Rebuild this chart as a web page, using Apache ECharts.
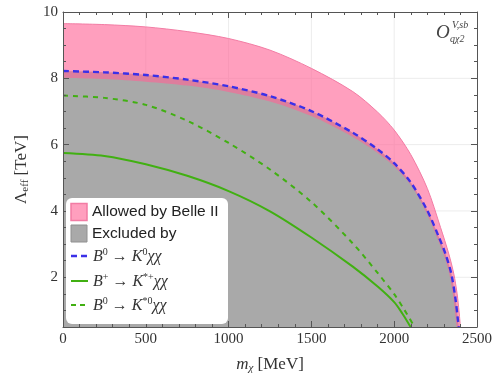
<!DOCTYPE html>
<html><head><meta charset="utf-8">
<script src="https://cdn.jsdelivr.net/npm/echarts@6/dist/echarts.min.js"></script>
<style>html,body{margin:0;padding:0;background:#fff}#c{width:495px;height:379px}</style>
</head><body><div id="c"></div>
<script>
// ---- data ----
const xTicks = [0, 500, 1000, 1500, 2000, 2500];
const yMajorTicks = [2, 4, 6, 8, 10];
const gridX = [500, 1000, 1500, 2000];
const gridY = [2, 4, 6, 8];

// Allowed by Belle II band: upper edge
const massAllowedUpper = [0, 250, 500, 750, 1000, 1250, 1500, 1750, 1900, 2000, 2100, 2200, 2280, 2330, 2360, 2380, 2392, 2400];
const allowedUpper     = [9.65, 9.62, 9.55, 9.41, 9.20, 8.85, 8.30, 7.60, 6.98, 6.44, 5.70, 4.68, 3.50, 2.70, 2.10, 1.50, 0.95, 0.50];
// Allowed by Belle II band: lower edge
const massAllowedLower = [0, 250, 500, 750, 1000, 1250, 1500, 1750, 1900, 2000, 2100, 2190, 2258, 2298, 2333, 2358, 2372, 2378];
const allowedLower     = [8.02, 7.98, 7.90, 7.78, 7.59, 7.30, 6.86, 6.23, 5.75, 5.34, 4.78, 4.00, 3.21, 2.70, 2.10, 1.35, 0.70, 0.50];

// B0 -> K0 chi chi (blue dashed, boundary of the excluded region)
const massB0K0 = [0, 250, 500, 750, 1000, 1250, 1500, 1750, 1900, 2000, 2100, 2200, 2270, 2310, 2345, 2370, 2385, 2390];
const b0K0     = [8.22, 8.18, 8.10, 7.96, 7.76, 7.46, 7.01, 6.36, 5.86, 5.44, 4.86, 4.01, 3.21, 2.70, 2.10, 1.35, 0.70, 0.50];

// B+ -> K*+ chi chi (green solid)
const massBpKsp = [0, 250, 500, 750, 1000, 1250, 1500, 1750, 1900, 2000, 2050, 2099];
const bpKsp     = [5.75, 5.66, 5.41, 5.06, 4.60, 3.99, 3.20, 2.32, 1.72, 1.25, 0.90, 0.50];

// B0 -> K*0 chi chi (green dashed)
const massB0Ks0 = [0, 250, 500, 750, 1000, 1250, 1500, 1750, 1900, 2000, 2060, 2123];
const b0Ks0     = [7.48, 7.41, 7.20, 6.72, 6.05, 5.25, 4.27, 3.02, 2.13, 1.49, 1.03, 0.50];

// ---- chart ----
const pairs = (xs, ys) => xs.map((x, i) => [x, ys[i]]);
const PINK = 'rgba(255,100,150,0.62)';
const PINK_EDGE = '#f27ca4';
const GRAY = '#a9a9a9';
const BLUE = '#3b30e8';
const GREEN = '#41b012';
const AX = '#555';
const SM = 0.3;
const serif = '"Liberation Serif", "DejaVu Serif", serif';
const sans = '"Liberation Sans", Arial, sans-serif';

const chart = echarts.init(document.getElementById('c'), null, {renderer: 'canvas'});

const gridSeries = [];
gridX.forEach(v => gridSeries.push({type: 'line', z: 1, silent: true, symbol: 'none', data: [[v, 0.5], [v, 10]], lineStyle: {color: '#ececec', width: 1}}));
gridY.forEach(v => gridSeries.push({type: 'line', z: 1, silent: true, symbol: 'none', data: [[0, v], [2500, v]], lineStyle: {color: '#ececec', width: 1}}));

const areaSeries = (data, z, fill, edge) => ({type: 'line', z: z, silent: true, symbol: 'none', smooth: SM,
  data: data, lineStyle: edge ? {color: edge, width: 1} : {width: 0},
  areaStyle: {color: fill, opacity: 1, origin: 'start'}});

const yBase = {type: 'value', min: 0.5, max: 10, interval: 0.5, gridIndex: 0, z: 10, splitLine: {show: false}};
const xBase = {type: 'value', min: 0, max: 2500, interval: 500, gridIndex: 0, z: 10, splitLine: {show: false},
  axisLine: {show: true, lineStyle: {color: AX, width: 1}},
  axisTick: {show: true, inside: true, length: 6, lineStyle: {color: AX}},
  minorTick: {show: true, splitNumber: 5, length: 3, lineStyle: {color: AX}}};

const option = {
  animation: false,
  backgroundColor: '#fff',
  grid: {left: 63, right: 12, top: 12, bottom: 52, containLabel: false},
  xAxis: [
    Object.assign({}, xBase, {position: 'bottom',
      axisLabel: {show: true, fontFamily: serif, fontSize: 15, color: '#333', margin: 5,
        formatter: v => String(v)},
      name: '{i|m}{s|χ} [MeV]', nameLocation: 'middle', nameGap: 28,
      nameTextStyle: {fontFamily: serif, fontSize: 17, color: '#333',
        rich: {i: {fontFamily: serif, fontStyle: 'italic', fontSize: 17, color: '#333'},
               s: {fontFamily: serif, fontStyle: 'italic', fontSize: 11, color: '#333', verticalAlign: 'bottom', padding: [8, 0, 0, 0]}}}}),
    Object.assign({}, xBase, {position: 'top', axisLabel: {show: false}})
  ],
  yAxis: [
    Object.assign({}, yBase, {position: 'left',
      axisLine: {show: true, lineStyle: {color: AX}},
      axisTick: {show: true, inside: true, length: 3, lineStyle: {color: AX}},
      axisLabel: {show: true, fontFamily: serif, fontSize: 15, color: '#333', margin: 5,
        formatter: v => (yMajorTicks.indexOf(v) >= 0 ? String(v) : '')},
      name: '{n|Λ}{s|eff} [TeV]', nameLocation: 'middle', nameGap: 32,
      nameTextStyle: {fontFamily: serif, fontSize: 17, color: '#333',
        rich: {n: {fontFamily: serif, fontSize: 17, color: '#333'},
               s: {fontFamily: serif, fontSize: 11, color: '#333', verticalAlign: 'bottom', padding: [8, 0, 0, 0]}}}}),
    Object.assign({}, yBase, {position: 'left', axisLine: {show: false},
      axisTick: {show: true, inside: true, length: 6, lineStyle: {color: AX}, customValues: yMajorTicks},
      axisLabel: {show: false}}),
    Object.assign({}, yBase, {position: 'right',
      axisLine: {show: true, lineStyle: {color: AX}},
      axisTick: {show: true, inside: true, length: 3, lineStyle: {color: AX}},
      axisLabel: {show: false}}),
    Object.assign({}, yBase, {position: 'right', axisLine: {show: false},
      axisTick: {show: true, inside: true, length: 6, lineStyle: {color: AX}, customValues: yMajorTicks},
      axisLabel: {show: false}})
  ],
  series: gridSeries.concat([
    // Allowed band: pink under the upper edge ...
    Object.assign(areaSeries(pairs(massAllowedUpper, allowedUpper), 2, PINK, PINK_EDGE), {name: 'Allowed by Belle II'}),
    // ... excluded (grey) region under the B0 -> K0 bound ...
    Object.assign(areaSeries(pairs(massB0K0, b0K0), 3, GRAY, null), {name: 'Excluded by'}),
    // ... the allowed band continues (translucent) over the grey ...
    areaSeries(pairs(massB0K0, b0K0), 4, PINK, null),
    // ... down to its lower edge
    areaSeries(pairs(massAllowedLower, allowedLower), 5, GRAY, null),
    {name: 'B0K0', type: 'line', z: 6, symbol: 'none', smooth: SM,
      data: pairs(massB0K0, b0K0), lineStyle: {color: BLUE, width: 2.4, type: [6, 4]}},
    {name: 'BpKsp', type: 'line', z: 6, symbol: 'none', smooth: SM,
      data: pairs(massBpKsp, bpKsp), lineStyle: {color: GREEN, width: 2}},
    {name: 'B0Ks0', type: 'line', z: 6, symbol: 'none', smooth: SM,
      data: pairs(massB0Ks0, b0Ks0), lineStyle: {color: GREEN, width: 2, type: [5, 5]}}
  ]),
  graphic: [
    // operator label
    {type: 'text', z: 60, x: 436, y: 23, style: {text: 'O', font: 'italic 19px ' + serif, fill: '#444'}},
    {type: 'text', z: 60, x: 452, y: 20, style: {text: 'V,sb', font: 'italic 10px ' + serif, fill: '#444'}},
    {type: 'text', z: 60, x: 450, y: 34, style: {text: 'qχ2', font: 'italic 10px ' + serif, fill: '#444'}},
    // legend box
    {type: 'rect', z: 50, shape: {x: 66, y: 198, width: 162, height: 126, r: 6}, style: {fill: '#fff'}},
    {type: 'rect', z: 51, shape: {x: 71, y: 203.5, width: 16, height: 17}, style: {fill: PINK, stroke: PINK_EDGE, lineWidth: 1.5}},
    {type: 'text', z: 51, x: 92, y: 212, style: {text: 'Allowed by Belle II', font: '15.5px ' + sans, fill: '#222', verticalAlign: 'middle'}},
    {type: 'rect', z: 51, shape: {x: 71, y: 225, width: 16, height: 17}, style: {fill: GRAY, stroke: '#909090', lineWidth: 1}},
    {type: 'text', z: 51, x: 92, y: 233.5, style: {text: 'Excluded by', font: '15.5px ' + sans, fill: '#222', verticalAlign: 'middle'}},
    {type: 'line', z: 51, shape: {x1: 71, y1: 256, x2: 88, y2: 256}, style: {stroke: BLUE, lineWidth: 2.4, lineDash: [6, 4]}},
    {type: 'line', z: 51, shape: {x1: 71, y1: 281, x2: 88, y2: 281}, style: {stroke: GREEN, lineWidth: 2}},
    {type: 'line', z: 51, shape: {x1: 71, y1: 305, x2: 88, y2: 305}, style: {stroke: GREEN, lineWidth: 2, lineDash: [5, 4]}},
    {type: 'text', z: 51, x: 93, y: 257, style: {text: '{i|B}{p|0}{a| → }{i|K}{p|0}{i|χχ}', verticalAlign: 'middle',
      rich: {i: {font: 'italic 16px ' + serif, fill: '#333', lineHeight: 20}, a: {font: '16px ' + serif, fill: '#333', lineHeight: 20},
             p: {font: '10px ' + serif, fill: '#333', lineHeight: 11, verticalAlign: 'top'}}}},
    {type: 'text', z: 51, x: 93, y: 282, style: {text: '{i|B}{p|+}{a| → }{i|K}{p|*+}{i|χχ}', verticalAlign: 'middle',
      rich: {i: {font: 'italic 16px ' + serif, fill: '#333', lineHeight: 20}, a: {font: '16px ' + serif, fill: '#333', lineHeight: 20},
             p: {font: '10px ' + serif, fill: '#333', lineHeight: 11, verticalAlign: 'top'}}}},
    {type: 'text', z: 51, x: 93, y: 306, style: {text: '{i|B}{p|0}{a| → }{i|K}{p|*0}{i|χχ}', verticalAlign: 'middle',
      rich: {i: {font: 'italic 16px ' + serif, fill: '#333', lineHeight: 20}, a: {font: '16px ' + serif, fill: '#333', lineHeight: 20},
             p: {font: '10px ' + serif, fill: '#333', lineHeight: 11, verticalAlign: 'top'}}}}
  ]
};
chart.setOption(option);
</script>
</body></html>
